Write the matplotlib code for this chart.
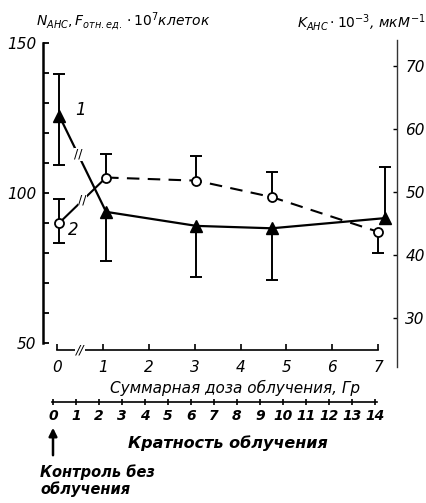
import numpy as np
import matplotlib
matplotlib.use("Agg")
import matplotlib.pyplot as plt
from matplotlib.ticker import MultipleLocator

plt.rcParams["font.family"] = ["DejaVu Sans"]
plt.rcParams["mathtext.default"] = "it"

# curve 1: N_ANS (left axis), filled triangles
dose_n = np.array([0.05, 1.07, 3.04, 4.68, 7.15])
n_ans = np.array([125.8, 93.7, 89.0, 88.2, 91.6])
n_err_lo = np.array([16.4, 16.3, 17.0, 17.2, 0.0])
n_err_hi = np.array([14.1, 0.0, 0.0, 0.0, 17.1])

# curve 2: K_ANS (right axis), open circles
dose_k = np.array([0.05, 1.07, 3.04, 4.68, 6.99])
k_ans = np.array([45.1, 52.3, 51.8, 49.2, 43.7])
k_err_lo = np.array([3.2, 0.0, 0.0, 0.0, 3.4])
k_err_hi = np.array([3.8, 3.8, 3.9, 4.0, 0.0])

left_ticks = [50, 100, 150]
right_ticks = [30, 40, 50, 60, 70]
dose_ticks = list(range(8))
fraction_ticks = list(range(15))

W, H = 426, 503
fig = plt.figure(figsize=(W / 100, H / 100), dpi=100)
fig.patch.set_facecolor("white")


def fx(px):
    return px / W


def fy(py):
    return 1 - py / H


ax = fig.add_axes([fx(43), fy(367), 354 / W, 327 / H])
ax.patch.set_alpha(0)
ax.set_xlim(-0.305, 7.41)
ax.set_ylim(41.81, 151.17)
axr = ax.twinx()
axr.set_ylim(22.22, 74.13)

for a in (ax, axr):
    a.spines["top"].set_visible(False)
axr.spines["left"].set_visible(False)
axr.spines["bottom"].set_visible(False)
ax.spines["right"].set_visible(False)

ax.spines["left"].set_linewidth(1.8)
ax.spines["left"].set_bounds(50, 150)
ax.set_yticks(left_ticks)
ax.set_yticklabels([str(t) for t in left_ticks], fontstyle="italic", fontsize=11)
ax.yaxis.set_minor_locator(MultipleLocator(10))
ax.tick_params(axis="y", which="both", direction="in", length=4, width=1.3, pad=5)

axr.spines["right"].set_linewidth(1.0)
axr.spines["right"].set_color("#333333")
axr.set_yticks(right_ticks)
axr.set_yticklabels([str(t) for t in right_ticks], fontstyle="italic", fontsize=11)
axr.tick_params(axis="y", direction="in", length=3, width=1.0, pad=6)

ax.spines["bottom"].set_position(("data", 47.5))
ax.spines["bottom"].set_bounds(0, 7)
ax.spines["bottom"].set_linewidth(1.2)
ax.set_xticks(dose_ticks)
ax.set_xticklabels([str(t) for t in dose_ticks], fontstyle="italic", fontsize=11)
ax.tick_params(axis="x", direction="in", length=4, width=1.2, pad=7)
ax.text(0.5, 47.5, "//", ha="center", va="center", fontsize=9, fontstyle="italic",
        bbox=dict(facecolor="white", edgecolor="none", pad=0.5))

# curve 1
ax.plot(dose_n, n_ans, "-", color="k", lw=1.6, zorder=3)
ax.plot(dose_n, n_ans, "^", color="k", ms=8, zorder=4)
m = n_err_lo > 0
ax.vlines(dose_n[m], n_ans[m] - n_err_lo[m], n_ans[m], color="k", lw=1.4)
ax.plot(dose_n[m], n_ans[m] - n_err_lo[m], "_", color="k", ms=9, mew=1.4)
m = n_err_hi > 0
ax.vlines(dose_n[m], n_ans[m], n_ans[m] + n_err_hi[m], color="k", lw=1.4)
ax.plot(dose_n[m], n_ans[m] + n_err_hi[m], "_", color="k", ms=9, mew=1.4)

# curve 2
axr.plot(dose_k[:2], k_ans[:2], "-", color="k", lw=1.5, zorder=3)
axr.plot(dose_k[1:], k_ans[1:], "--", color="k", lw=1.5, dashes=(6, 4), zorder=3)
m = k_err_lo > 0
axr.vlines(dose_k[m], k_ans[m] - k_err_lo[m], k_ans[m], color="k", lw=1.4)
axr.plot(dose_k[m], k_ans[m] - k_err_lo[m], "_", color="k", ms=9, mew=1.4)
m = k_err_hi > 0
axr.vlines(dose_k[m], k_ans[m], k_ans[m] + k_err_hi[m], color="k", lw=1.4)
axr.plot(dose_k[m], k_ans[m] + k_err_hi[m], "_", color="k", ms=9, mew=1.4)
axr.plot(dose_k, k_ans, "o", mfc="white", mec="k", ms=6.5, mew=1.3, zorder=5)

# breaks on the control -> first dose segments
t = 0.4
ax.text(dose_n[0] + t * (dose_n[1] - dose_n[0]), n_ans[0] + t * (n_ans[1] - n_ans[0]),
        "//", ha="center", va="center", fontsize=9, zorder=6,
        bbox=dict(facecolor="white", edgecolor="none", pad=0.2))
t = 0.5
axr.text(dose_k[0] + t * (dose_k[1] - dose_k[0]), k_ans[0] + t * (k_ans[1] - k_ans[0]),
         "//", ha="center", va="center", fontsize=9, zorder=6,
         bbox=dict(facecolor="white", edgecolor="none", pad=0.2))

ax.text(0.52, 127.8, "1", fontsize=12, fontstyle="italic", ha="center", va="center")
ax.text(0.35, 87.6, "2", fontsize=12, fontstyle="italic", ha="center", va="center")

# axis titles
fig.text(fx(36), fy(22), r"$N_{АНС}, F_{отн.ед.}\cdot10^7$клеток", fontsize=10,
         fontstyle="italic", ha="left", va="center")
fig.text(fx(297), fy(22), r"$K_{АНС}\cdot10^{-3}$, мк$М^{-1}$", fontsize=10,
         fontstyle="italic", ha="left", va="center")
fig.text(fx(235), fy(388), "Суммарная доза облучения, Гр", fontsize=11,
         fontstyle="italic", ha="center", va="center")

# second scale: number of exposures
ax2 = fig.add_axes([fx(43), fy(402), 354 / W, 1 / H])
ax2.patch.set_alpha(0)
for s in ("top", "left", "right"):
    ax2.spines[s].set_visible(False)
ax2.set_xlim(-0.435, 14.96)
ax2.set_yticks([])
ax2.spines["bottom"].set_bounds(-0.05, 14.1)
ax2.spines["bottom"].set_linewidth(1.2)
ax2.set_xticks(fraction_ticks)
ax2.set_xticklabels([str(t) for t in fraction_ticks], fontstyle="italic",
                    fontweight="bold", fontsize=10)
ax2.tick_params(axis="x", direction="inout", length=4, width=1.2, pad=3)

fig.text(fx(228), fy(443), "Кратность облучения", fontsize=11.5, fontstyle="italic",
         fontweight="bold", ha="center", va="center")
ax2.annotate("", xy=(53, H - 425), xytext=(53, H - 458), xycoords="figure pixels",
             textcoords="figure pixels",
             arrowprops=dict(arrowstyle="-|>", lw=1.8, color="k", mutation_scale=12))
fig.text(fx(40), fy(481), "Контроль без\nоблучения", fontsize=10.5, fontstyle="italic",
         fontweight="bold", ha="left", va="center", linespacing=1.1)

fig.savefig("out.png", dpi=100)
